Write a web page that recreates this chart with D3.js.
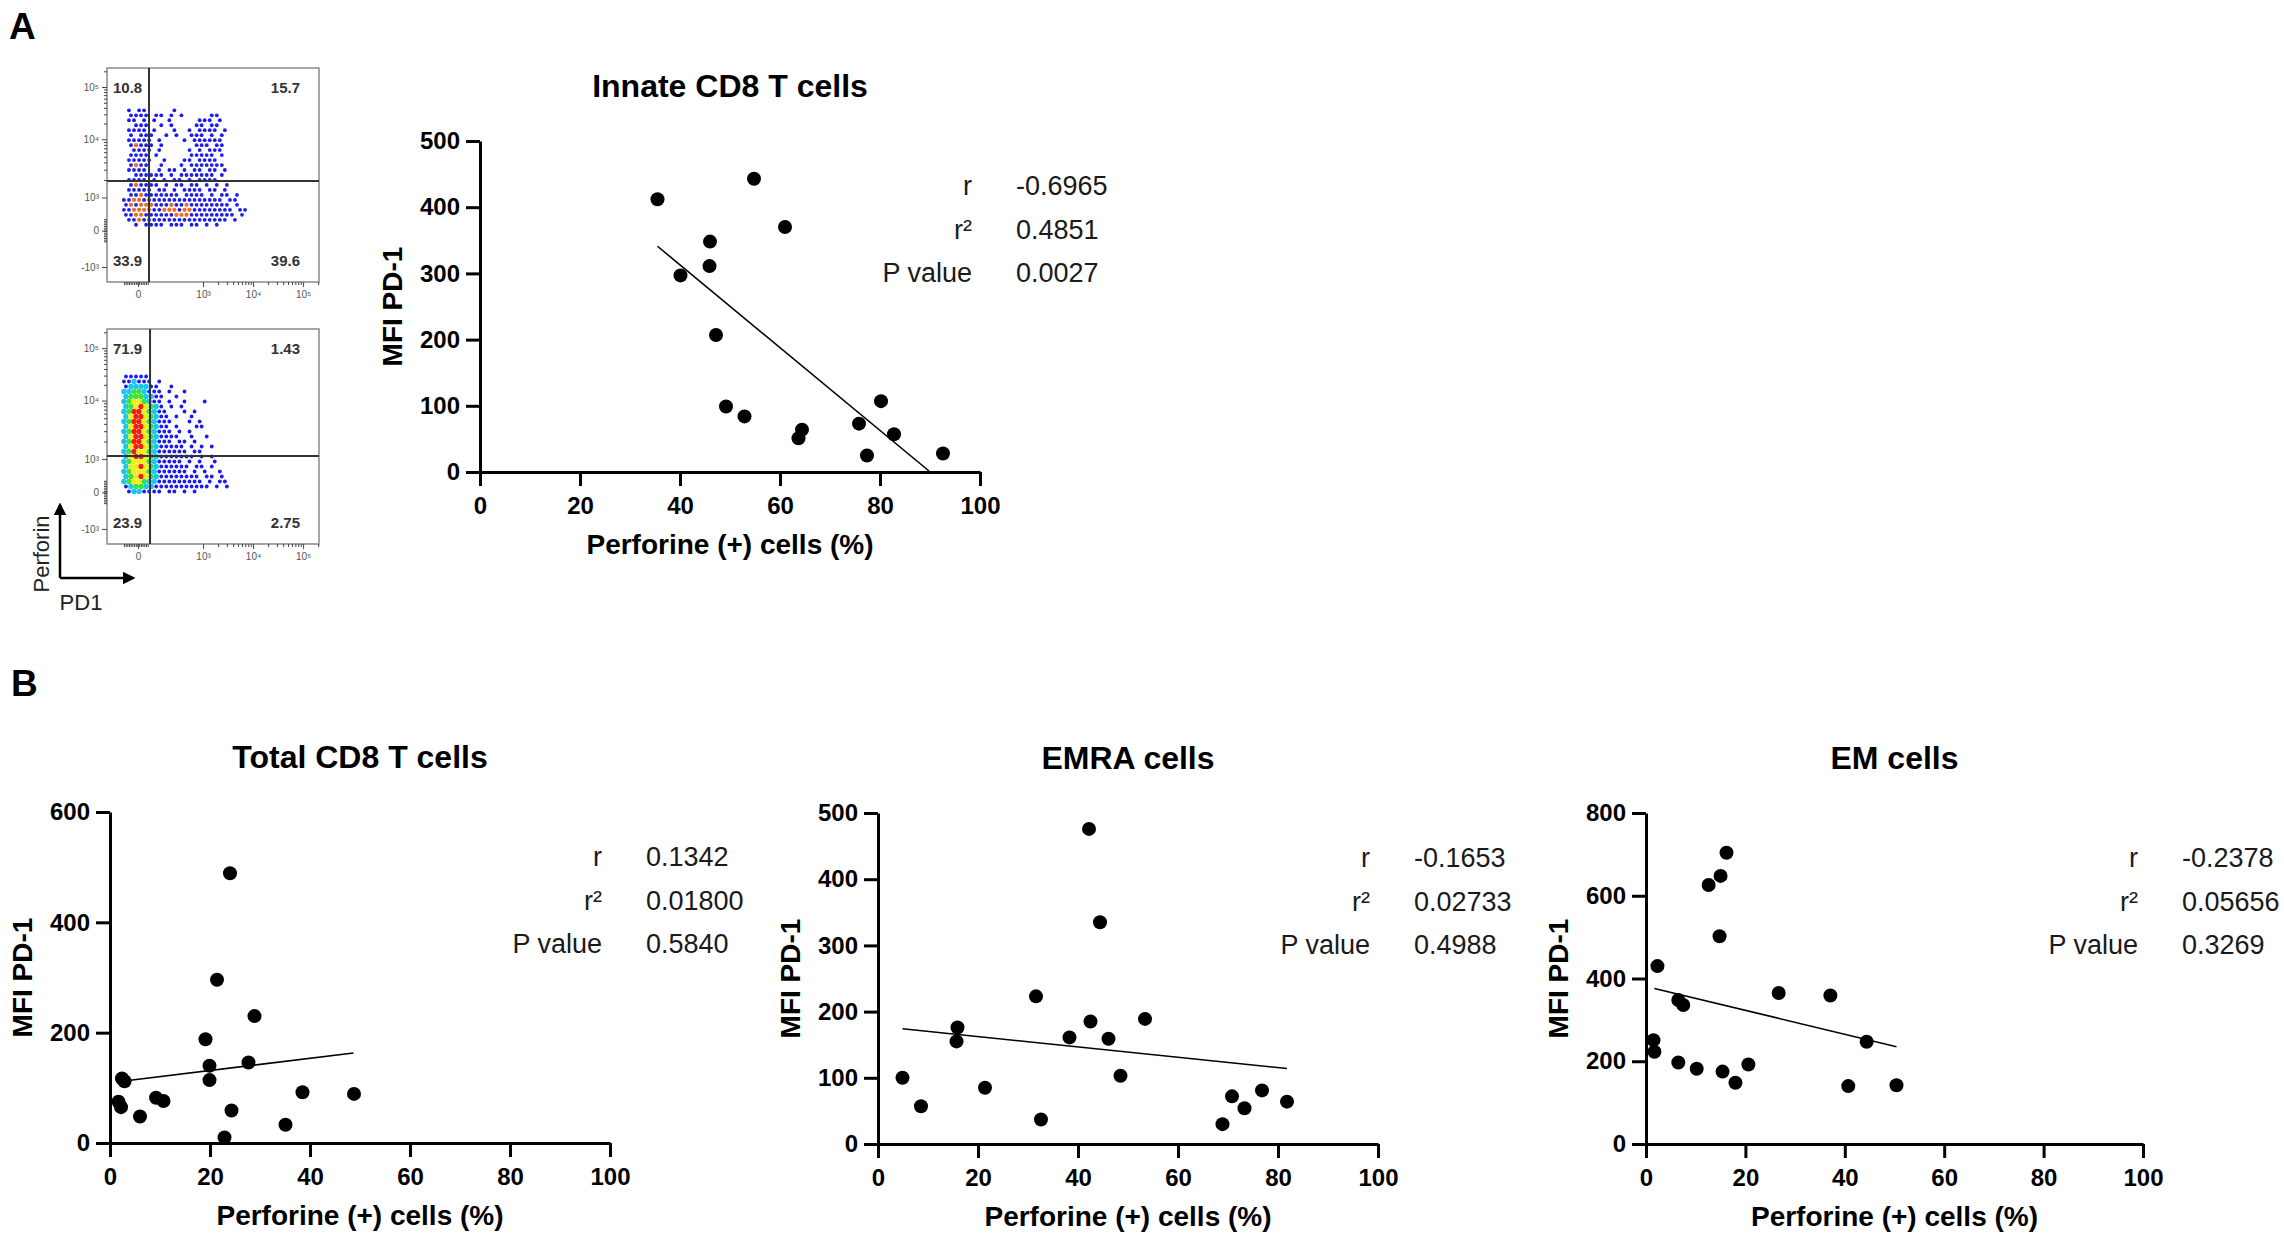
<!DOCTYPE html>
<html>
<head>
<meta charset="utf-8">
<script src="https://cdn.jsdelivr.net/npm/d3@7"></script>
<style>
  body { margin: 0; background: #fff; }
  svg text { font-family: "Liberation Sans", Arial, sans-serif; }
</style>
</head>
<body>
<svg id="fig" width="2284" height="1240"></svg>
<script>
// ---- scatter data ----
const xTicks = [0, 20, 40, 60, 80, 100];

const innateX = [35.5, 54.8, 61.0, 46.0, 45.9, 40.1, 47.2, 49.2, 52.9, 63.7, 64.4, 75.8, 77.4, 80.2, 82.8, 92.6];
const innateY = [412, 443, 370, 348, 311, 297, 207, 99, 84, 51, 64, 73, 25, 107, 57, 28];
const innateFit = [[35.5, 341], [89.8, 1.5]];
const innateStats = ['-0.6965', '0.4851', '0.0027'];

const totalX = [1.7, 2.2, 2.4, 2.9, 6.0, 9.2, 10.7, 21.4, 19.1, 19.9, 19.9, 24.0, 28.9, 27.7, 24.3, 22.9, 35.1, 38.5, 48.8];
const totalY = [75, 65, 117, 112, 48, 82, 76, 296, 188, 140, 114, 489, 230, 146, 59, 10, 33, 92, 89];
const totalFit = [[2.4, 112], [48.7, 163]];
const totalStats = ['0.1342', '0.01800', '0.5840'];

const emraX = [4.9, 8.6, 15.9, 15.7, 21.4, 31.6, 32.6, 38.3, 42.2, 44.4, 42.5, 46.1, 48.5, 53.4, 68.9, 70.8, 73.3, 76.8, 81.8];
const emraY = [100, 57, 176, 155, 85, 223, 37, 161, 476, 335, 185, 159, 103, 189, 30, 72, 54, 81, 64];
const emraFit = [[4.9, 174], [81.8, 114]];
const emraStats = ['-0.1653', '0.02733', '0.4988'];

const emX = [2.3, 1.5, 1.7, 6.5, 6.5, 7.5, 10.2, 12.6, 15.0, 16.2, 14.8, 15.4, 18.0, 20.6, 26.7, 37.1, 40.7, 44.4, 50.4];
const emY = [430, 251, 223, 197, 348, 336, 182, 626, 648, 704, 502, 175, 148, 192, 365, 359, 140, 247, 142];
const emFit = [[1.7, 376], [50.4, 235]];
const emStats = ['-0.2378', '0.05656', '0.3269'];

const statNames = ['r', 'r\u00b2', 'P value'];

// ---- flow cytometry plots: binned density ----
// . empty  b blue  c cyan  g green  y yellow  o orange  r red
const flowGrid1 = [
  '', '', '', '', '', '', '', '',
  '....b.bb.....b',
  '....bbbb.bb.b.b.....bb',
  '....bb.b.b..b.....bbb.b',
  '.....bbb..b.b....bb.bb',
  '....bbbb.b...b..b.bbbb.b',
  '....b.bbb..b.b..bbb.b.b',
  '....bbbbb.b....b.bbbbbb',
  '....bobbb.b......bbb.bb',
  '.....bbbb.b.....b.b.bbb',
  '....bbbb.b......bbbbb.b',
  '....bbbbb..b...bb.bbbb',
  '....bobb..b...b.bbbbbbb',
  '....bbbb..b.bb.b.bb.bb.b',
  '.....bbbbbb.b.bbbbbbb.b',
  '....bbbb.b.b.bb.b.bbbb',
  '....bobbbb.b.bb.bb.b.b.b',
  '....bbbbb.bb.b.bbbb.bb.b',
  '....bbobbbbbbb.bbbb.b.bb.b',
  '...bboobbbbbbbbbbbbbbbb.bb',
  '...bobooobbbobbobbbbbbbb.b',
  '...bboooobboooboobbbbbbbb.bb',
  '...bboobbbbbbooobbbbbbbbb.b',
  '....bbobbbbbbbbbbbbbbbbb.b',
  '.....b.bbbb.bbb.bb.b.b'
];
const flowGrid2 = [
  '', '', '', '', '', '', '', '', '',
  '...bbbbb',
  '...bbcbbb.b',
  '...bccccbb..b',
  '...ccggcbbb.b..b',
  '...cgggccbb..b',
  '...cgyygcbb.b..b...b',
  '...cgyrygcb.b.b',
  '...cgrrygcbb...b.b',
  '...cyrrygcbb.b..b',
  '...cgrrygcbbb...b.b',
  '...cyrrygcbb.b...bb',
  '...cgrrygcbbb.b.b',
  '...cyrrygcbbbb..b..b',
  '...cgrrygcbbb.bb.b',
  '...cyrrygcbbbbb.b.b.b',
  '...cgryygcbbbbbb.bb',
  '...cyrrygcbbbbbbb.b.b',
  '...cgyyygcbbbbb.b.b..b',
  '...cyyrygcbbbbbb.bb.b',
  '...cgyyygcbbbbbb.b.b..b',
  '...cgyrygcbbbbbbbb.bb.b',
  '...cgyygccbbbbbbbbb.b.bb',
  '...bcggccbbbbbbbbbbb.b.b',
  '....bccbbbb.bb.b.b'
];
const flowXTicks = [14.6, 45.3, 68.9, 92.5];
const flowXLabels = ['0', '10\u00b3', '10\u2074', '10\u2075'];
const flowYTicks = [7, 24, 39.5, 66.7, 91.1];
const flowYLabels = ['-10\u00b3', '0', '10\u00b3', '10\u2074', '10\u2075'];
const flowGates = [[19.8, 47.2], [20.3, 40.9]];
const flowQuadrants = [['10.8', '15.7', '33.9', '39.6'], ['71.9', '1.43', '23.9', '2.75']];

const densityColor = { b: '#1b1bf5', c: '#18c8f0', g: '#3ee03a', y: '#f2ee12', o: '#f26a22', r: '#f01e10' };
const densitySize = { b: 1.9, o: 2.1, c: 2.7, g: 2.7, y: 2.7, r: 2.7 };

const svg = d3.select('#fig');
const FONT = '"Liberation Sans", Arial, sans-serif';

// ---------- flow plots ----------
function drawFlow(box, grid, gate, quads) {
  const g = svg.append('g');
  const fx = d3.scaleLinear().domain([0, 100]).range([box.x, box.x + box.w]);
  const fy = d3.scaleLinear().domain([0, 100]).range([box.y + box.h, box.y]);
  const col = d3.scaleBand().domain(d3.range(42)).range([box.x, box.x + box.w]);
  const row = d3.scaleBand().domain(d3.range(43)).range([box.y, box.y + box.h]);

  const cells = [];
  grid.forEach((s, i) => s.split('').forEach((ch, j) => { if (ch !== '.') cells.push({ i, j, ch }); }));

  // staggered rows so the bins read as scattered events rather than a square grid
  g.selectAll('circle').data(cells).enter().append('circle')
    .attr('cx', d => col(d.j) + col.bandwidth() * (d.i % 2 ? 0.75 : 0.35))
    .attr('cy', d => row(d.i) + row.bandwidth() / 2)
    .attr('r', d => densitySize[d.ch])
    .attr('fill', d => densityColor[d.ch]);

  g.append('rect').attr('x', box.x).attr('y', box.y).attr('width', box.w).attr('height', box.h)
    .attr('fill', 'none').attr('stroke', '#8a8a8a').attr('stroke-width', 1.5);

  // gates
  g.append('line').attr('x1', fx(gate[0])).attr('x2', fx(gate[0])).attr('y1', box.y).attr('y2', box.y + box.h)
    .attr('stroke', '#333').attr('stroke-width', 2);
  g.append('line').attr('x1', box.x).attr('x2', box.x + box.w).attr('y1', fy(gate[1])).attr('y2', fy(gate[1]))
    .attr('stroke', '#333').attr('stroke-width', 2);

  // axes
  const minorY = [];
  for (let k = 2; k < 5; k++) {
    const a = flowYTicks[k], b = k < 4 ? flowYTicks[k + 1] : flowYTicks[k] + (flowYTicks[k] - flowYTicks[k - 1]);
    for (let m = 2; m < 10; m++) { const v = a + (b - a) * Math.log10(m); if (v < 100) minorY.push(v); }
  }
  d3.range(19, 29.5, 0.8).forEach(v => minorY.push(v));
  const minorX = [];
  for (let k = 1; k < 4; k++) {
    const a = flowXTicks[k], b = k < 3 ? flowXTicks[k + 1] : flowXTicks[k] + (flowXTicks[k] - flowXTicks[k - 1]);
    for (let m = 2; m < 10; m++) { const v = a + (b - a) * Math.log10(m); if (v < 100) minorX.push(v); }
  }
  d3.range(8, 20, 0.8).forEach(v => minorX.push(v));

  const yAx = g.append('g').attr('transform', `translate(${box.x},0)`)
    .call(d3.axisLeft(fy).tickValues(flowYTicks).tickSize(5).tickSizeOuter(0).tickPadding(3)
      .tickFormat((d, i) => flowYLabels[i]));
  const yMin = g.append('g').attr('transform', `translate(${box.x},0)`)
    .call(d3.axisLeft(fy).tickValues(minorY).tickSize(3).tickSizeOuter(0).tickFormat(''));
  const xAx = g.append('g').attr('transform', `translate(0,${box.y + box.h})`)
    .call(d3.axisBottom(fx).tickValues(flowXTicks).tickSize(5).tickSizeOuter(0).tickPadding(4)
      .tickFormat((d, i) => flowXLabels[i]));
  const xMin = g.append('g').attr('transform', `translate(0,${box.y + box.h})`)
    .call(d3.axisBottom(fx).tickValues(minorX).tickSize(3).tickSizeOuter(0).tickFormat(''));
  [yAx, yMin, xAx, xMin].forEach(a => {
    a.select('.domain').remove();
    a.selectAll('.tick line').attr('stroke', '#444').attr('stroke-width', 1);
    a.selectAll('.tick text').attr('font-size', 10).attr('fill', '#555').attr('font-family', FONT);
  });

  // quadrant frequencies
  const put = (txt, x, y, anchor) => g.append('text').attr('x', x).attr('y', y).attr('text-anchor', anchor)
    .attr('font-size', 15).attr('font-weight', 'bold').attr('fill', '#333').text(txt);
  put(quads[0], box.x + 6, box.y + 25, 'start');
  put(quads[1], box.x + box.w - 19, box.y + 25, 'end');
  put(quads[2], box.x + 6, box.y + box.h - 16, 'start');
  put(quads[3], box.x + box.w - 19, box.y + box.h - 16, 'end');
}

drawFlow({ x: 107, y: 68, w: 212, h: 214 }, flowGrid1, flowGates[0], flowQuadrants[0]);
drawFlow({ x: 107, y: 329, w: 212, h: 215 }, flowGrid2, flowGates[1], flowQuadrants[1]);

// axis key arrows
svg.append('defs').append('marker')
  .attr('id', 'arrow').attr('viewBox', '0 0 10 10').attr('refX', 8).attr('refY', 5)
  .attr('markerWidth', 5).attr('markerHeight', 5).attr('orient', 'auto')
  .append('path').attr('d', 'M0,0L10,5L0,10z').attr('fill', '#000');
svg.append('path').attr('d', 'M60,578V505').attr('stroke', '#000').attr('stroke-width', 2.5).attr('marker-end', 'url(#arrow)');
svg.append('path').attr('d', 'M60,578H133').attr('stroke', '#000').attr('stroke-width', 2.5).attr('marker-end', 'url(#arrow)');
svg.append('text').attr('transform', 'translate(49,554) rotate(-90)').attr('text-anchor', 'middle')
  .attr('font-size', 22).attr('fill', '#222').text('Perforin');
svg.append('text').attr('x', 81).attr('y', 610).attr('text-anchor', 'middle')
  .attr('font-size', 22).attr('fill', '#222').text('PD1');

// ---------- scatter panels ----------
function drawScatter(p) {
  const g = svg.append('g');
  const x = d3.scaleLinear().domain([0, 100]).range([p.left, p.left + p.width]);
  const y = d3.scaleLinear().domain([0, p.yMax]).range([p.top + p.height, p.top]);

  const xa = g.append('g').attr('transform', `translate(0,${p.top + p.height})`)
    .call(d3.axisBottom(x).tickValues(xTicks).tickSize(14).tickSizeOuter(0).tickPadding(11));
  const ya = g.append('g').attr('transform', `translate(${p.left},0)`)
    .call(d3.axisLeft(y).tickValues(d3.range(0, p.yMax + 1, p.yStep)).tickSize(14).tickSizeOuter(0).tickPadding(6));
  [xa, ya].forEach(a => {
    a.selectAll('.domain, .tick line').attr('stroke', '#000').attr('stroke-width', 3);
    a.selectAll('.tick text').attr('font-size', 24).attr('font-weight', 'bold')
      .attr('fill', '#000').attr('font-family', FONT);
  });

  g.append('line')
    .attr('x1', x(p.fit[0][0])).attr('y1', y(p.fit[0][1]))
    .attr('x2', x(p.fit[1][0])).attr('y2', y(p.fit[1][1]))
    .attr('stroke', '#000').attr('stroke-width', 1.6);

  g.selectAll('.dot').data(p.xs.map((v, i) => [v, p.ys[i]])).enter().append('circle')
    .attr('class', 'dot')
    .attr('cx', d => x(d[0])).attr('cy', d => y(d[1])).attr('r', 7).attr('fill', '#000');

  g.append('text').attr('x', p.left + p.width / 2).attr('y', p.top - 44).attr('text-anchor', 'middle')
    .attr('font-size', 32).attr('font-weight', 'bold').text(p.title);
  g.append('text').attr('x', p.left + p.width / 2).attr('y', p.top + p.height + 82).attr('text-anchor', 'middle')
    .attr('font-size', 28).attr('font-weight', 'bold').text('Perforine (+) cells (%)');
  g.append('text').attr('transform', `translate(${p.left - 78},${p.top + p.height / 2}) rotate(-90)`)
    .attr('text-anchor', 'middle').attr('font-size', 28).attr('font-weight', 'bold').text('MFI PD-1');

  statNames.forEach((n, i) => {
    g.append('text').attr('x', p.left + 492).attr('y', p.top + 54 + i * 43.5).attr('text-anchor', 'end')
      .attr('font-size', 27).attr('fill', '#1a1a1a').text(n);
    g.append('text').attr('x', p.left + 536).attr('y', p.top + 54 + i * 43.5).attr('text-anchor', 'start')
      .attr('font-size', 27).attr('fill', '#1a1a1a').text(p.stats[i]);
  });
}

drawScatter({ title: 'Innate CD8 T cells', left: 480, top: 141, width: 500, height: 331, yMax: 500, yStep: 100,
  xs: innateX, ys: innateY, fit: innateFit, stats: innateStats });
drawScatter({ title: 'Total CD8 T cells', left: 110, top: 812, width: 500, height: 331, yMax: 600, yStep: 200,
  xs: totalX, ys: totalY, fit: totalFit, stats: totalStats });
drawScatter({ title: 'EMRA cells', left: 878, top: 813, width: 500, height: 331, yMax: 500, yStep: 100,
  xs: emraX, ys: emraY, fit: emraFit, stats: emraStats });
drawScatter({ title: 'EM cells', left: 1646, top: 813, width: 497, height: 331, yMax: 800, yStep: 200,
  xs: emX, ys: emY, fit: emFit, stats: emStats });

// panel letters
svg.append('text').attr('x', 9).attr('y', 39).attr('font-size', 37).attr('font-weight', 'bold').text('A');
svg.append('text').attr('x', 11).attr('y', 696).attr('font-size', 37).attr('font-weight', 'bold').text('B');
</script>
</body>
</html>
